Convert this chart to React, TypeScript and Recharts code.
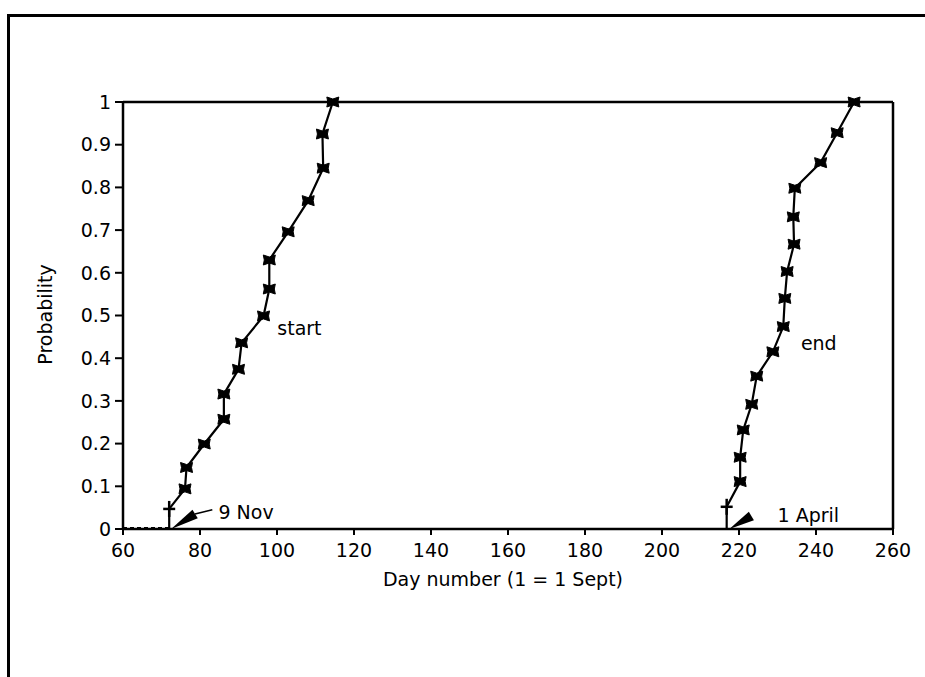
import { LineChart, Line, XAxis, YAxis, ReferenceLine, ReferenceDot, Label } from 'recharts';

// day number (1 = 1 Sept) vs cumulative probability
const startDays = [72, 72, 76.1, 76.5, 81.1, 86.2, 86.2, 90, 90.8, 96.5, 98, 98, 102.9, 108.1, 112, 111.8, 114.5];
const startProb = [0, 0.047, 0.094, 0.144, 0.199, 0.257, 0.316, 0.374, 0.436, 0.499, 0.562, 0.63, 0.696, 0.769, 0.845, 0.925, 1];

const endDays = [216.8, 216.8, 220.3, 220.3, 221.1, 223.3, 224.6, 228.8, 231.5, 231.9, 232.5, 234.3, 234.1, 234.5, 241.2, 245.5, 249.9];
const endProb = [0, 0.052, 0.111, 0.168, 0.232, 0.292, 0.358, 0.415, 0.474, 0.54, 0.603, 0.667, 0.731, 0.798, 0.858, 0.928, 1];

const xTicks = [60, 80, 100, 120, 140, 160, 180, 200, 220, 240, 260];
const yTicks = [0, 0.1, 0.2, 0.3, 0.4, 0.5, 0.6, 0.7, 0.8, 0.9, 1];

const startData = startDays.map((x, i) => ({ x, p: startProb[i] }));
const endData = endDays.map((x, i) => ({ x, p: endProb[i] }));

const FONT = '"DejaVu Sans", sans-serif';

function Marker(props: any) {
  const { cx, cy, payload, index } = props;
  if (cx == null || cy == null) return <g key={`m-${index}`} />;
  if (payload.p === 0) return <g key={`m-${index}`} />;
  if (index === 1) {
    // lowest point drawn as a plain cross
    return (
      <g key={`m-${index}`} stroke="#000" strokeWidth={2.5}>
        <line x1={cx - 6} y1={cy} x2={cx + 6} y2={cy} />
        <line x1={cx} y1={cy - 8} x2={cx} y2={cy + 8} />
      </g>
    );
  }
  const pts = [
    [-6, -5], [0, -3], [6, -5], [5, 0], [6, 5], [0, 3], [-6, 5], [-5, 0],
  ].map(([dx, dy]) => `${cx + dx},${cy + dy}`).join(' ');
  return <polygon key={`m-${index}`} points={pts} fill="#000" stroke="#000" strokeWidth={1} />;
}

function Wedge(props: any) {
  const { cx, cy, dx, dy } = props;
  // tip at (cx,cy), thick end at (cx+dx, cy+dy)
  const len = Math.hypot(dx, dy);
  const nx = -dy / len;
  const ny = dx / len;
  const w = 5;
  const pts = [
    [cx, cy],
    [cx + dx + nx * w, cy + dy + ny * w],
    [cx + dx - nx * w, cy + dy - ny * w],
  ].map(([a, b]) => `${a},${b}`).join(' ');
  return <polygon points={pts} fill="#000" />;
}

export default function App() {
  return (
    <div style={{ position: 'absolute', left: 0, top: 0, width: 925, height: 677, background: '#fff' }}>
      <div style={{ position: 'absolute', left: 7, top: 14, width: 918, height: 663, borderLeft: '3px solid #000', borderTop: '3px solid #000' }} />
      <div style={{ position: 'absolute', left: 0, top: 0 }}>
        <LineChart width={925} height={677} margin={{ top: 102, right: 32, left: 0, bottom: 88 }}>
          <XAxis
            type="number"
            dataKey="x"
            domain={[60, 260]}
            ticks={xTicks}
            allowDataOverflow
            height={60}
            axisLine={{ stroke: '#000', strokeWidth: 2.5 }}
            tickLine={{ stroke: '#000', strokeWidth: 2 }}
            tickSize={6}
            tickMargin={9}
            tick={{ fill: '#000', fontSize: 19, fontFamily: FONT }}
          >
            <Label
              content={({ viewBox }: any) => (
                <text
                  x={viewBox.x + viewBox.width / 2 - 5}
                  y={viewBox.y + 50}
                  textAnchor="middle"
                  dominantBaseline="central"
                  fontSize={19}
                  fontFamily={FONT}
                  fill="#000"
                >
                  Day number (1 = 1 Sept)
                </text>
              )}
            />
          </XAxis>
          <YAxis
            type="number"
            domain={[0, 1]}
            ticks={yTicks}
            width={123}
            axisLine={{ stroke: '#000', strokeWidth: 2.5 }}
            tickLine={{ stroke: '#000', strokeWidth: 2 }}
            tickSize={8}
            tickMargin={4}
            tick={{ fill: '#000', fontSize: 19, fontFamily: FONT }}
          >
            <Label
              content={({ viewBox }: any) => (
                <text
                  x={45}
                  y={viewBox.y + viewBox.height / 2 - 1}
                  transform={`rotate(-90 45 ${viewBox.y + viewBox.height / 2 - 1})`}
                  textAnchor="middle"
                  dominantBaseline="central"
                  fontSize={19}
                  fontFamily={FONT}
                  fill="#000"
                >
                  Probability
                </text>
              )}
            />
          </YAxis>
          <ReferenceLine y={1} stroke="#000" strokeWidth={2.5} />
          <ReferenceLine x={260} stroke="#000" strokeWidth={2.5} />
          <ReferenceLine
            segment={[{ x: 60, y: 0.003 }, { x: 72, y: 0.003 }]}
            stroke="#000"
            strokeWidth={1.5}
            strokeDasharray="4 3"
          />
          <Line
            data={startData}
            dataKey="p"
            type="linear"
            stroke="#000"
            strokeWidth={2.2}
            dot={Marker}
            activeDot={false}
            isAnimationActive={false}
          />
          <Line
            data={endData}
            dataKey="p"
            type="linear"
            stroke="#000"
            strokeWidth={2.2}
            dot={Marker}
            activeDot={false}
            isAnimationActive={false}
          />
          <ReferenceDot x={72.5} y={0} r={0} shape={(p: any) => <Wedge {...p} dx={24} dy={-15} />} />
          <ReferenceLine segment={[{ x: 78.7, y: 0.035 }, { x: 83.2, y: 0.045 }]} stroke="#000" strokeWidth={1.5} />
          <ReferenceDot x={217.5} y={0} r={0} shape={(p: any) => <Wedge {...p} dx={22} dy={-13} />} />
          <ReferenceDot x={98} y={0.47} r={0} fill="none" stroke="none">
            <Label value="start" position="right" offset={8} fontSize={19} fontFamily={FONT} fill="#000" />
          </ReferenceDot>
          <ReferenceDot x={234} y={0.435} r={0} fill="none" stroke="none">
            <Label value="end" position="right" offset={8} fontSize={19} fontFamily={FONT} fill="#000" />
          </ReferenceDot>
          <ReferenceDot x={83.5} y={0.04} r={0} fill="none" stroke="none">
            <Label value="9 Nov" position="right" offset={5} fontSize={19} fontFamily={FONT} fill="#000" />
          </ReferenceDot>
          <ReferenceDot x={229.5} y={0.033} r={0} fill="none" stroke="none">
            <Label value="1 April" position="right" offset={2} fontSize={19} fontFamily={FONT} fill="#000" />
          </ReferenceDot>
        </LineChart>
      </div>
    </div>
  );
}
